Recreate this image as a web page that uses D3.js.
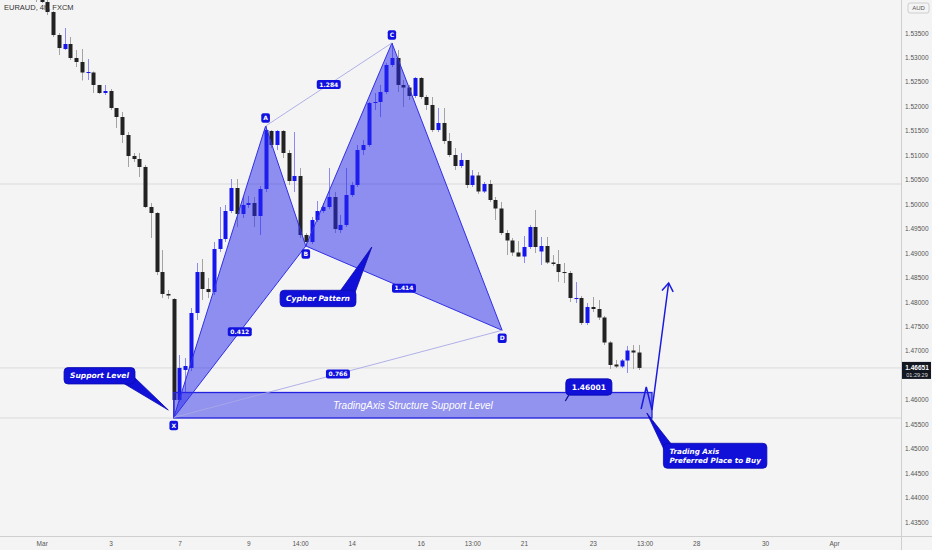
<!DOCTYPE html>
<html><head><meta charset="utf-8">
<script src="https://cdn.jsdelivr.net/npm/d3@7"></script>
<style>html,body{margin:0;padding:0;background:#f4f4f4;overflow:hidden}</style>
</head><body>
<svg id="c" width="932" height="550"></svg>
<script>
// ---------- DATA ----------
const title = "EURAUD, 4h, FXCM";
const firstIndex = -1; // bar index of first candle (0 = 1 Mar 00:00)
const opens = [1.54420,1.54175,1.54134,1.53929,1.53459,1.53173,1.53275,1.52989,1.52907,1.52682,
1.52692,1.52437,1.52273,1.52314,1.51966,1.51782,1.51414,1.50985,1.50923,1.50760,
1.49942,1.49819,1.48612,1.48163,1.48060,1.45995,1.46609,1.46651,1.47774,1.48612,
1.48265,1.48203,1.49083,1.49287,1.49860,1.50330,1.49799,1.49983,1.50024,1.49758,
1.50310,1.51496,1.51210,1.51496,1.51046,1.50473,1.50576,1.49369,1.49226,1.49676,
1.49860,1.49942,1.50146,1.49471,1.49574,1.50187,1.50392,1.51107,1.51210,1.52069,
1.52089,1.52293,1.52846,1.52989,1.52437,1.52385,1.52212,1.52580,1.52191,1.52028,
1.51516,1.51660,1.51291,1.51005,1.50780,1.50903,1.50392,1.50586,1.50259,1.50412,
1.50085,1.49911,1.49410,1.49257,1.49011,1.48929,1.49124,1.49533,1.49032,1.49144,
1.48807,1.48776,1.48612,1.48592,1.48060,1.48081,1.47570,1.47897,1.47856,1.47682,
1.47171,1.46721,1.46680,1.46803,1.47007,1.46966];
const highs = [1.54482,1.54277,1.54175,1.53950,1.53500,1.53602,1.53418,1.53152,1.53173,1.52968,
1.52713,1.52437,1.52437,1.52355,1.51966,1.51884,1.51475,1.51046,1.51046,1.50801,
1.50024,1.49839,1.49062,1.48244,1.48081,1.46915,1.46854,1.47876,1.48797,1.48878,
1.48490,1.49226,1.49942,1.49983,1.50514,1.50514,1.50167,1.50167,1.50146,1.50371,
1.51598,1.51516,1.51516,1.51516,1.51107,1.51475,1.50739,1.49410,1.49737,1.50064,
1.50024,1.50739,1.50248,1.49778,1.50739,1.50453,1.51210,1.51312,1.52089,1.52273,
1.52437,1.52887,1.53296,1.53152,1.52539,1.52437,1.52600,1.52600,1.52232,1.52191,
1.51966,1.51966,1.51455,1.51148,1.51046,1.50903,1.50698,1.50657,1.50453,1.50494,
1.50146,1.50044,1.49471,1.49308,1.49246,1.49349,1.49574,1.49880,1.49328,1.49328,
1.48960,1.49062,1.48797,1.48633,1.48408,1.48122,1.47978,1.48101,1.48040,1.47713,
1.47201,1.46813,1.46833,1.47099,1.47120,1.47120];
const lows = [1.54134,1.54114,1.53868,1.53418,1.53050,1.53152,1.52948,1.52805,1.52529,1.52539,
1.52273,1.52253,1.52232,1.51925,1.51557,1.51250,1.50760,1.50862,1.50555,1.49921,
1.49308,1.48551,1.48081,1.48060,1.45637,1.45954,1.46158,1.46588,1.47631,1.48040,
1.48081,1.48142,1.49021,1.49226,1.49819,1.49533,1.49717,1.49921,1.49533,1.49369,
1.50248,1.51148,1.51107,1.50944,1.50392,1.50248,1.49308,1.49144,1.49185,1.49635,
1.49819,1.49901,1.49410,1.49410,1.49533,1.50146,1.50351,1.51005,1.51169,1.51925,
1.51782,1.52253,1.52805,1.52293,1.51987,1.52130,1.52171,1.52150,1.51925,1.51475,
1.51475,1.51230,1.50964,1.50698,1.50739,1.50330,1.50351,1.50208,1.50228,1.50044,
1.49676,1.49369,1.48960,1.48940,1.48919,1.48797,1.49083,1.49001,1.48756,1.48776,
1.48735,1.48408,1.48388,1.47999,1.47978,1.47529,1.47529,1.47794,1.47631,1.47120,
1.46629,1.46649,1.46649,1.46547,1.46629,1.46609];
const closes = [1.54175,1.54134,1.53929,1.53459,1.53193,1.53275,1.52989,1.52907,1.52692,1.52702,
1.52437,1.52273,1.52314,1.51966,1.51782,1.51414,1.50985,1.50923,1.50760,1.49942,
1.49819,1.48612,1.48163,1.48132,1.45995,1.46651,1.46690,1.47774,1.48612,1.48265,
1.48203,1.49083,1.49287,1.49860,1.50330,1.49799,1.49983,1.50024,1.49758,1.50310,
1.51516,1.51210,1.51496,1.51046,1.50473,1.50576,1.49369,1.49226,1.49676,1.49860,
1.49942,1.50146,1.49492,1.49574,1.50187,1.50392,1.51107,1.51210,1.52069,1.52089,
1.52293,1.52846,1.52989,1.52437,1.52385,1.52212,1.52580,1.52191,1.52028,1.51516,
1.51660,1.51291,1.51005,1.50780,1.50903,1.50392,1.50586,1.50259,1.50412,1.50085,
1.49911,1.49410,1.49257,1.49011,1.48929,1.49124,1.49533,1.49124,1.49144,1.48807,
1.48776,1.48612,1.48592,1.48081,1.48081,1.47570,1.47897,1.47856,1.47682,1.47171,
1.46711,1.46680,1.46803,1.47007,1.46966,1.46651];

const yTicks = [1.535,1.530,1.525,1.520,1.515,1.510,1.505,1.500,1.495,1.490,1.485,1.480,1.475,1.470,1.460,1.455,1.450,1.445,1.440,1.435];
const xTickIdx = [0,12,24,36,45,54,66,75,84,96,105,114,126,138];
const xTickLabels = ["Mar","3","7","9","14:00","14","16","13:00","21","23","13:00","28","30","Apr"];

const lastPrice = 1.46651, countdown = "01:29:29", currency = "AUD";
const hLines = [1.50412, 1.46651, 1.45627];

// Cypher pattern points (bar index, price)
const patNames = ["X","A","B","C","D"];
const patIdx = [23, 39, 46, 61, 80.2];
const patPrice = [1.45637, 1.51598, 1.49144, 1.53296, 1.47420];
const ratioPairs = [[0,2],[1,3],[2,4],[0,4]];
const ratioLabels = ["0.412","1.284","1.414","0.766"];

// Support zone
const zone = {i0: 23, i1: 106.3, top: 1.46148, bottom: 1.45627, label: "TradingAxis Structure Support Level"};

// Callouts: box centre (index, price), pointer tip (index, price)
const callouts = [
  {lines:["Support Level"], ci:10.07, cp:1.46490, ti:22.05, tp:1.45790, size:7.5, italic:true},
  {lines:["Cypher Pattern"], ci:48.13, cp:1.48071, ti:57.5, tp:1.49124, size:7.5, italic:true},
  {lines:["1.46001"], ci:95.3, cp:1.46261, ti:91.2, tp:1.45974, size:7.5, italic:false, thin:true},
  {lines:["Trading Axis","Preferred Place to Buy"], ci:117.3, cp:1.44854, ti:105.4, tp:1.45729, size:7.2, italic:true, left:true}
];
// Arrow path (index, price)
const arrowIdx = [104.4, 105.3, 106.3, 109.2];
const arrowPrice = [1.45811, 1.46261, 1.45790, 1.48388];

// ---------- DRAW ----------
const W = 932, H = 550, PW = 901, PH = 536;
const svg = d3.select("#c");
const x = d3.scaleLinear().domain([0, 138]).range([41.7, 834]);
const y = d3.scaleLinear().domain([1.435, 1.535]).range([522, 33]);

svg.append("rect").attr("width", W).attr("height", H).attr("fill", "#f4f4f4");
svg.append("defs").append("clipPath").attr("id", "clip")
  .append("rect").attr("width", PW).attr("height", PH);
const plot = svg.append("g").attr("clip-path", "url(#clip)");

// horizontal lines
plot.selectAll("line.h").data(hLines).join("line")
  .attr("x1", 0).attr("x2", PW).attr("y1", d => y(d)).attr("y2", d => y(d))
  .attr("stroke", "#dadada").attr("stroke-width", 1);

// title
svg.append("text").attr("x", 4).attr("y", 9.5).attr("font-family", "Liberation Sans, Arial, sans-serif")
  .attr("font-size", 7.5).attr("fill", "#333").text(title);

// candles
const bars = opens.map((o, k) => ({i: firstIndex + k, o, h: highs[k], l: lows[k], c: closes[k]}));
const bw = 4;
const cg = plot.append("g");
cg.selectAll("line.w").data(bars).join("line")
  .attr("x1", d => Math.round(x(d.i)) + 0.5).attr("x2", d => Math.round(x(d.i)) + 0.5)
  .attr("y1", d => y(d.h)).attr("y2", d => y(d.l))
  .attr("stroke", d => d.c >= d.o ? "#8a8af0" : "#a3a3a3").attr("stroke-width", 1);
cg.selectAll("rect.b").data(bars).join("rect")
  .attr("x", d => Math.round(x(d.i)) + 0.5 - bw / 2).attr("width", bw)
  .attr("y", d => y(Math.max(d.o, d.c)))
  .attr("height", d => Math.max(1, Math.abs(y(d.o) - y(d.c))))
  .attr("fill", d => d.c >= d.o ? "#1515ee" : "#222222");

// support zone
plot.append("rect")
  .attr("x", x(zone.i0)).attr("width", x(zone.i1) - x(zone.i0))
  .attr("y", y(zone.top)).attr("height", y(zone.bottom) - y(zone.top))
  .attr("fill", "rgba(40,40,235,0.48)").attr("stroke", "#2222e0").attr("stroke-width", 1.3);
plot.append("text").attr("x", (x(zone.i0) + x(zone.i1)) / 2).attr("y", (y(zone.top) + y(zone.bottom)) / 2 + 3.5)
  .attr("text-anchor", "middle").attr("font-family", "Liberation Sans, Arial, sans-serif")
  .attr("font-style", "italic").attr("font-size", 10).attr("fill", "#ffffff").text(zone.label);

// pattern triangles
const P = patIdx.map((v, k) => [x(v), y(patPrice[k])]);
const tri = [[0,1,2],[2,3,4]];
plot.selectAll("path.tri").data(tri).join("path")
  .attr("d", t => "M" + t.map(k => P[k].join(",")).join("L") + "Z")
  .attr("fill", "rgba(40,40,235,0.5)").attr("stroke", "#3030e6").attr("stroke-width", 1);
// thin lines A-C, X-D
plot.selectAll("line.thin").data([[1,3],[0,4]]).join("line")
  .attr("x1", d => P[d[0]][0]).attr("y1", d => P[d[0]][1])
  .attr("x2", d => P[d[1]][0]).attr("y2", d => P[d[1]][1])
  .attr("stroke", "#a8a8e8").attr("stroke-width", 0.9);

function labelBox(g, cx, cy, txt, size, padX, h) {
  const t = g.append("text").attr("x", cx).attr("y", cy + size * 0.36).attr("text-anchor", "middle")
    .attr("font-family", "DejaVu Sans, sans-serif").attr("font-weight", "bold")
    .attr("font-size", size).attr("fill", "#fff").text(txt);
  const w = t.node().getComputedTextLength() + padX * 2;
  g.insert("rect", "text").attr("x", cx - w / 2).attr("y", cy - h / 2).attr("width", w).attr("height", h)
    .attr("rx", 2).attr("fill", "#1212e0");
}
// ratio labels
const rg = plot.append("g");
ratioPairs.forEach((pr, k) => {
  const cx = (P[pr[0]][0] + P[pr[1]][0]) / 2, cy = (P[pr[0]][1] + P[pr[1]][1]) / 2;
  const g = rg.append("g");
  labelBox(g, cx, cy, ratioLabels[k], 6, 2.5, 9);
});
// point labels
patNames.forEach((n, k) => {
  const g = rg.append("g");
  const above = (k === 1 || k === 3);
  labelBox(g, P[k][0], P[k][1] + (above ? -8 : 8), n, 6, 2, 9.5);
});

// arrow
const ap = arrowIdx.map((v, k) => [x(v), y(arrowPrice[k])]);
plot.append("path").attr("d", d3.line()(ap)).attr("fill", "none").attr("stroke", "#1a1ae0").attr("stroke-width", 1.5);
{
  const a = ap[ap.length - 1], b = ap[ap.length - 2];
  const ang = Math.atan2(a[1] - b[1], a[0] - b[0]);
  const L = 10, sp = 0.6;
  const p1 = [a[0] - L * Math.cos(ang - sp), a[1] - L * Math.sin(ang - sp)];
  const p2 = [a[0] - L * Math.cos(ang + sp), a[1] - L * Math.sin(ang + sp)];
  plot.append("path").attr("d", d3.line()([p1, a, p2])).attr("fill", "none")
    .attr("stroke", "#1a1ae0").attr("stroke-width", 1.5);
}

// callouts
callouts.forEach(c => {
  const g = plot.append("g");
  const cx = x(c.ci), cy = y(c.cp);
  const lh = c.size * 1.25;
  const texts = c.lines.map((s, k) => g.append("text")
    .attr("font-family", "DejaVu Sans, sans-serif").attr("font-weight", "bold")
    .attr("font-style", c.italic ? "italic" : "normal").attr("font-size", c.size).attr("fill", "#fff").text(s));
  const tw = d3.max(texts, t => t.node().getComputedTextLength());
  const bwid = tw + 12, bh = lh * c.lines.length + 7;
  const bx = cx - bwid / 2, by = cy - bh / 2;
  texts.forEach((t, k) => {
    if (c.left) t.attr("x", bx + 6).attr("text-anchor", "start");
    else t.attr("x", cx).attr("text-anchor", "middle");
    t.attr("y", by + 3.5 + lh * (k + 1) - lh * 0.22);
  });
  const tx = x(c.ti), ty = y(c.tp);
  if (c.thin) {
    g.insert("line", "text").attr("x1", bx + 3).attr("y1", by + bh).attr("x2", tx).attr("y2", ty)
      .attr("stroke", "#0b0b90").attr("stroke-width", 1.2);
  } else {
    let b1, b2;
    if (ty > cy && tx > bx + bwid) { b1 = [bx + bwid - 12, by + bh - 1]; b2 = [bx + bwid - 1, by + bh - 7]; }
    else if (ty < cy && tx > bx + bwid) { b1 = [bx + bwid - 16, by + 1]; b2 = [bx + bwid - 2, by + 5]; }
    else if (ty > cy && tx < bx) { b1 = [bx + 1, by + bh - 5]; b2 = [bx + 8, by + bh - 1]; }
    else { b1 = [bx + 1, by + 7]; b2 = [bx + 8, by + 1]; }
    g.insert("path", "text").attr("d", "M" + b1 + "L" + [tx, ty] + "L" + b2 + "Z")
      .attr("fill", "#1010d8").attr("stroke", "#0b0bb0").attr("stroke-width", 0.8);
  }
  g.insert("rect", "text").attr("x", bx).attr("y", by).attr("width", bwid).attr("height", bh)
    .attr("rx", 4).attr("fill", "#1010d8").attr("stroke", "#0b0bb0").attr("stroke-width", 0.8);
});

// axes separators
svg.append("line").attr("x1", PW + 0.5).attr("x2", PW + 0.5).attr("y1", 0).attr("y2", H)
  .attr("stroke", "#cfcfcf").attr("stroke-width", 1);
svg.append("line").attr("x1", 0).attr("x2", W).attr("y1", PH + 0.5).attr("y2", PH + 0.5)
  .attr("stroke", "#cfcfcf").attr("stroke-width", 1);

// y axis labels
const yAxis = d3.axisRight(y).tickValues(yTicks).tickSize(0).tickPadding(4).tickFormat(d3.format(".5f"));
const yg = svg.append("g").attr("transform", `translate(${PW},0)`).call(yAxis);
yg.select(".domain").remove();
yg.selectAll("text").attr("font-family", "Liberation Sans, Arial, sans-serif").attr("font-size", 6.5).attr("fill", "#555");

// currency badge
svg.append("rect").attr("x", 908).attr("y", 3).attr("width", 21).attr("height", 10).attr("rx", 2)
  .attr("fill", "#f4f4f4").attr("stroke", "#bdbdbd").attr("stroke-width", 0.7);
svg.append("text").attr("x", 918.5).attr("y", 10.3).attr("text-anchor", "middle")
  .attr("font-family", "Liberation Sans, Arial, sans-serif").attr("font-size", 6).attr("fill", "#555").text(currency);

// last price badge
{
  const py = y(lastPrice);
  svg.append("rect").attr("x", PW + 1).attr("y", py - 6).attr("width", W - PW - 2).attr("height", 17)
    .attr("fill", "#131722");
  svg.append("text").attr("x", PW + 16).attr("y", py + 2.3).attr("text-anchor", "middle")
    .attr("font-family", "Liberation Sans, Arial, sans-serif").attr("font-weight", "bold").attr("font-size", 6.5).attr("fill", "#fff").text(d3.format(".5f")(lastPrice));
  svg.append("text").attr("x", PW + 16).attr("y", py + 9.5).attr("text-anchor", "middle")
    .attr("font-family", "Liberation Sans, Arial, sans-serif").attr("font-size", 5.5).attr("fill", "#ddd").text(countdown);
}

// x axis labels
const xAxis = d3.axisBottom(x).tickValues(xTickIdx).tickSize(0).tickPadding(5)
  .tickFormat((d, k) => xTickLabels[k]);
const xg = svg.append("g").attr("transform", `translate(0,${PH})`).call(xAxis);
xg.select(".domain").remove();
xg.selectAll("text").attr("font-family", "Liberation Sans, Arial, sans-serif").attr("font-size", 6.5).attr("fill", "#555");
</script>
</body></html>
